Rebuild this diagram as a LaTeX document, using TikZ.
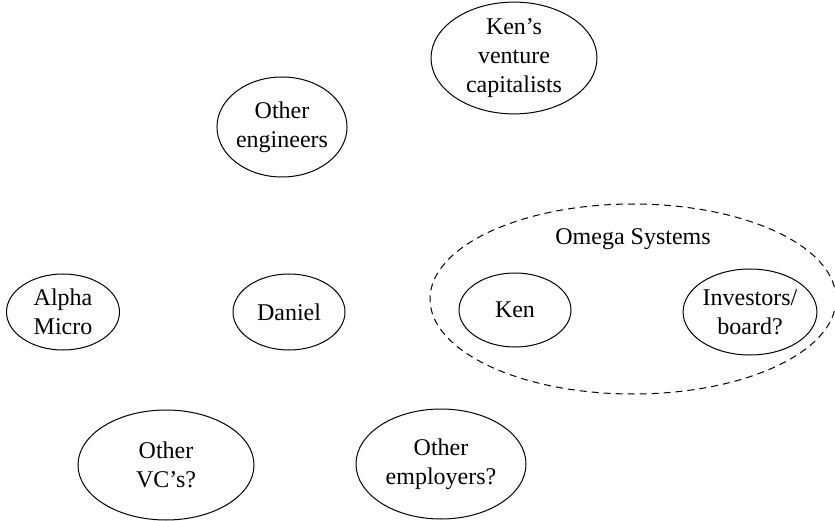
\documentclass[tikz,border=0pt]{standalone}
\usepackage{fontspec}
\setmainfont{Liberation Serif}
\usetikzlibrary{shapes.geometric}

\begin{document}
\begin{tikzpicture}[x=1pt, y=-1pt]
    \tikzstyle{party} = [ellipse, draw, line width=1pt, inner sep=0pt, align=center, font=\fontsize{24}{29}\selectfont]
    \tikzstyle{firm} = [ellipse, draw, dashed, line width=1pt, dash pattern=on 7pt off 5pt, inner sep=0pt]

    \useasboundingbox (0,0) rectangle (835,521);

    % the company and its people
    \node[firm, minimum width=406pt, minimum height=190pt] (omega) at (633,299) {};
    \node[font=\fontsize{24}{29}\selectfont] (omegalabel) at (633,239) {Omega Systems};
    \node[party, minimum width=112pt, minimum height=74pt] (ken) at (515,310) {Ken};
    \node[party, minimum width=130pt, minimum height=86pt] (investors) at (750,312) {Investors/\\board?};

    % everybody else
    \node[party, minimum width=166pt, minimum height=110pt] (kensvc) at (514,58) {Ken's\\venture\\capitalists};
    \node[party, minimum width=128pt, minimum height=100pt] (engineers) at (282,127) {Other\\engineers};
    \node[party, minimum width=113pt, minimum height=76pt] (alpha) at (63,312) {Alpha\\Micro};
    \node[party, minimum width=112pt, minimum height=76pt] (daniel) at (289,312) {Daniel};
    \node[party, minimum width=176pt, minimum height=110pt] (othervc) at (166,465) {Other\\VC's?};
    \node[party, minimum width=170pt, minimum height=110pt] (employers) at (441,464) {Other\\employers?};

\end{tikzpicture}
\end{document}
